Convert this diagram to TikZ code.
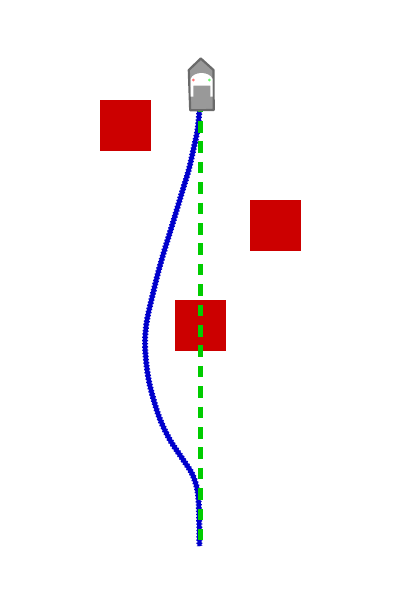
\documentclass[tikz,border=0pt]{standalone}
\definecolor{obst}{HTML}{CC0000}
\definecolor{refline}{HTML}{00CC00}
\definecolor{track}{HTML}{0000CC}
\definecolor{hull}{HTML}{999999}
\definecolor{hulledge}{HTML}{6A6A6A}
\tikzset{
  obstacle/.style={fill=obst,draw=none},
  trackcore/.style={draw=track,line width=4.4pt,line join=round},
  trackedge/.style={draw=track,line width=6pt,dash pattern=on 1.4pt off 1.8pt},
  refpath/.style={draw=refline,line width=5.2pt,dash pattern=on 11.5pt off 8.9pt}
}
\begin{document}
\begin{tikzpicture}[x=1pt,y=-1pt]
\useasboundingbox[fill=white] (0,0) rectangle (400,600);
\fill[obstacle] (100,100) rectangle (151,151);
\fill[obstacle] (250,200) rectangle (301,251);
\fill[obstacle] (175,300) rectangle (226,351);
\def\trk{plot[smooth,tension=0.55] coordinates {(199.5,110) (197.5,130) (193.3,150) (188.7,170) (182.7,190) (176.7,210) (170.7,230) (164.5,250) (158.8,270) (152.6,295) (147,320) (145,340) (146,360) (148.7,380) (153.7,400) (160.3,420) (170,440) (183.3,460) (191.7,473) (196.7,487) (198.5,500) (199.2,520) (199.5,546)}}
\draw[trackcore] \trk;
\draw[trackedge] \trk;
\coordinate (reftop) at (200.7,100.6);
\coordinate (refbot) at (200.7,540);
\draw[refpath] (reftop) -- (refbot);
% vessel
\draw[fill=hull,draw=hulledge,line width=2.2pt,line join=round]
  (188.8,70) -- (200.8,58.5) -- (213.5,70) -- (213.7,110) -- (190.2,110.3) -- cycle;
\fill[white] (190.6,96.7) -- (190.6,79) .. controls (192,75) and (197,73) .. (201.5,73)
  .. controls (206,73) and (211,75) .. (212.6,79) -- (212.6,96.7) -- (210.4,96.7) -- (210.4,85.7) -- (193.4,85.7) -- (193.4,96.7) -- cycle;
\fill[red!55!white] (193.3,80) circle (1.5pt);
\fill[green!60!white] (209.3,80) circle (1.5pt);
\end{tikzpicture}
\end{document}
